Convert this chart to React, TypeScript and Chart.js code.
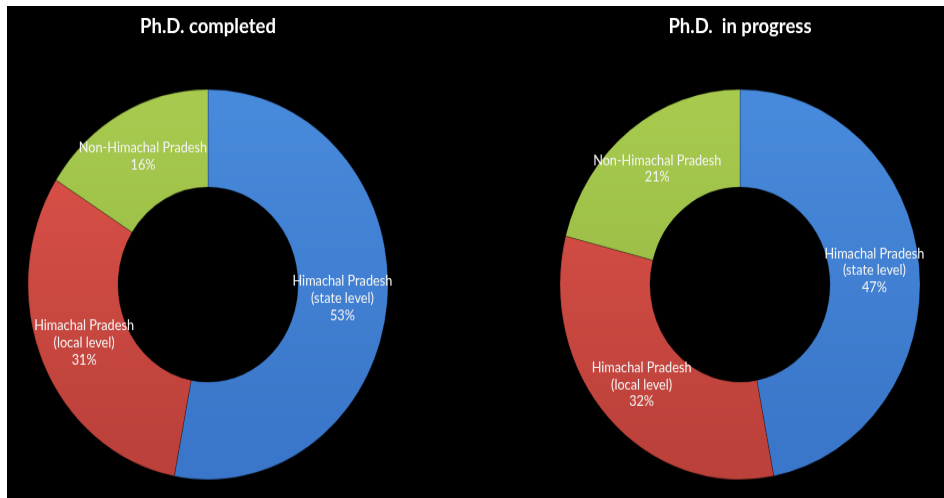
import React, { useEffect, useRef } from "react";
import { Chart, registerables } from "chart.js";

Chart.register(...registerables);

// Origin of Ph.D. scholars
const categories = [
  "Himachal Pradesh (state level)",
  "Himachal Pradesh (local level)",
  "Non-Himachal Pradesh",
];
const categoryLines = [
  ["Himachal Pradesh", "(state level)"],
  ["Himachal Pradesh", "(local level)"],
  ["Non-Himachal Pradesh"],
];
const completedValues = [53, 31, 16];
const inProgressValues = [47, 32, 21];
const chartTitles = ["Ph.D. completed", "Ph.D.  in progress"];

// top / bottom shades for each slice
const sliceTop = ["#4789da", "#dc5249", "#a6c94e"];
const sliceBottom = ["#3a76c9", "#bb413a", "#92b340"];

const CANVAS_W = 402;
const CANVAS_H = 454;
const STRETCH_Y = 492 / 454;

const sliceLabels = {
  id: "sliceLabels",
  afterDatasetsDraw(chart: any) {
    const { ctx } = chart;
    const meta = chart.getDatasetMeta(0);
    const values = chart.data.datasets[0].data as number[];
    ctx.save();
    ctx.font = "12.7px Lato";
    ctx.fillStyle = "#f4f4f4";
    ctx.textAlign = "center";
    ctx.textBaseline = "middle";
    const lineH = 15.8;
    meta.data.forEach((arc: any, i: number) => {
      const { x, y } = arc.tooltipPosition();
      const lines = [...categoryLines[i], `${values[i]}%`];
      const start = y - ((lines.length - 1) * lineH) / 2;
      lines.forEach((t, k) => ctx.fillText(t, x, start + k * lineH));
    });
    ctx.restore();
  },
};

function Donut({ title, values, left }: { title: string; values: number[]; left: number }) {
  const ref = useRef<HTMLCanvasElement>(null);
  useEffect(() => {
    const canvas = ref.current!;
    const chart = new Chart(canvas, {
      type: "doughnut",
      data: {
        labels: categories,
        datasets: [
          {
            data: values,
            backgroundColor: (c: any) => {
              const area = c.chart.chartArea;
              if (!area) return sliceTop[c.dataIndex];
              const g = c.chart.ctx.createLinearGradient(0, area.top, 0, area.bottom);
              g.addColorStop(0, sliceTop[c.dataIndex]);
              g.addColorStop(1, sliceBottom[c.dataIndex]);
              return g;
            },
            borderColor: "rgba(0,0,0,0.3)",
            borderWidth: 0.8,
          },
        ],
      },
      options: {
        responsive: false,
        animation: false,
        radius: 180,
        cutout: "50%",
        layout: { padding: { top: 0, bottom: 40, left: 0, right: 0 } },
        plugins: {
          legend: { display: false },
          tooltip: { enabled: false },
          title: {
            display: true,
            text: title,
            color: "#ffffff",
            font: { family: "Lato", size: 18.5, weight: "bold", lineHeight: 1.2 },
            padding: { top: 8.3, bottom: 69.5 },
          },
        },
      } as any,
      plugins: [sliceLabels],
    });
    return () => chart.destroy();
  }, [title, values]);
  return (
    <canvas
      ref={ref}
      width={CANVAS_W}
      height={CANVAS_H}
      style={{
        position: "absolute",
        left,
        top: 0,
        width: CANVAS_W,
        height: CANVAS_H,
        transform: `scaleY(${STRETCH_Y})`,
        transformOrigin: "0 0",
      }}
    />
  );
}

export default function App() {
  return (
    <div
      style={{
        position: "fixed",
        left: 7,
        top: 6,
        right: 0,
        bottom: 0,
        background: "#000",
        overflow: "hidden",
      }}
    >
      <Donut title={chartTitles[0]} values={completedValues} left={0} />
      <Donut title={chartTitles[1]} values={inProgressValues} left={532} />
    </div>
  );
}
